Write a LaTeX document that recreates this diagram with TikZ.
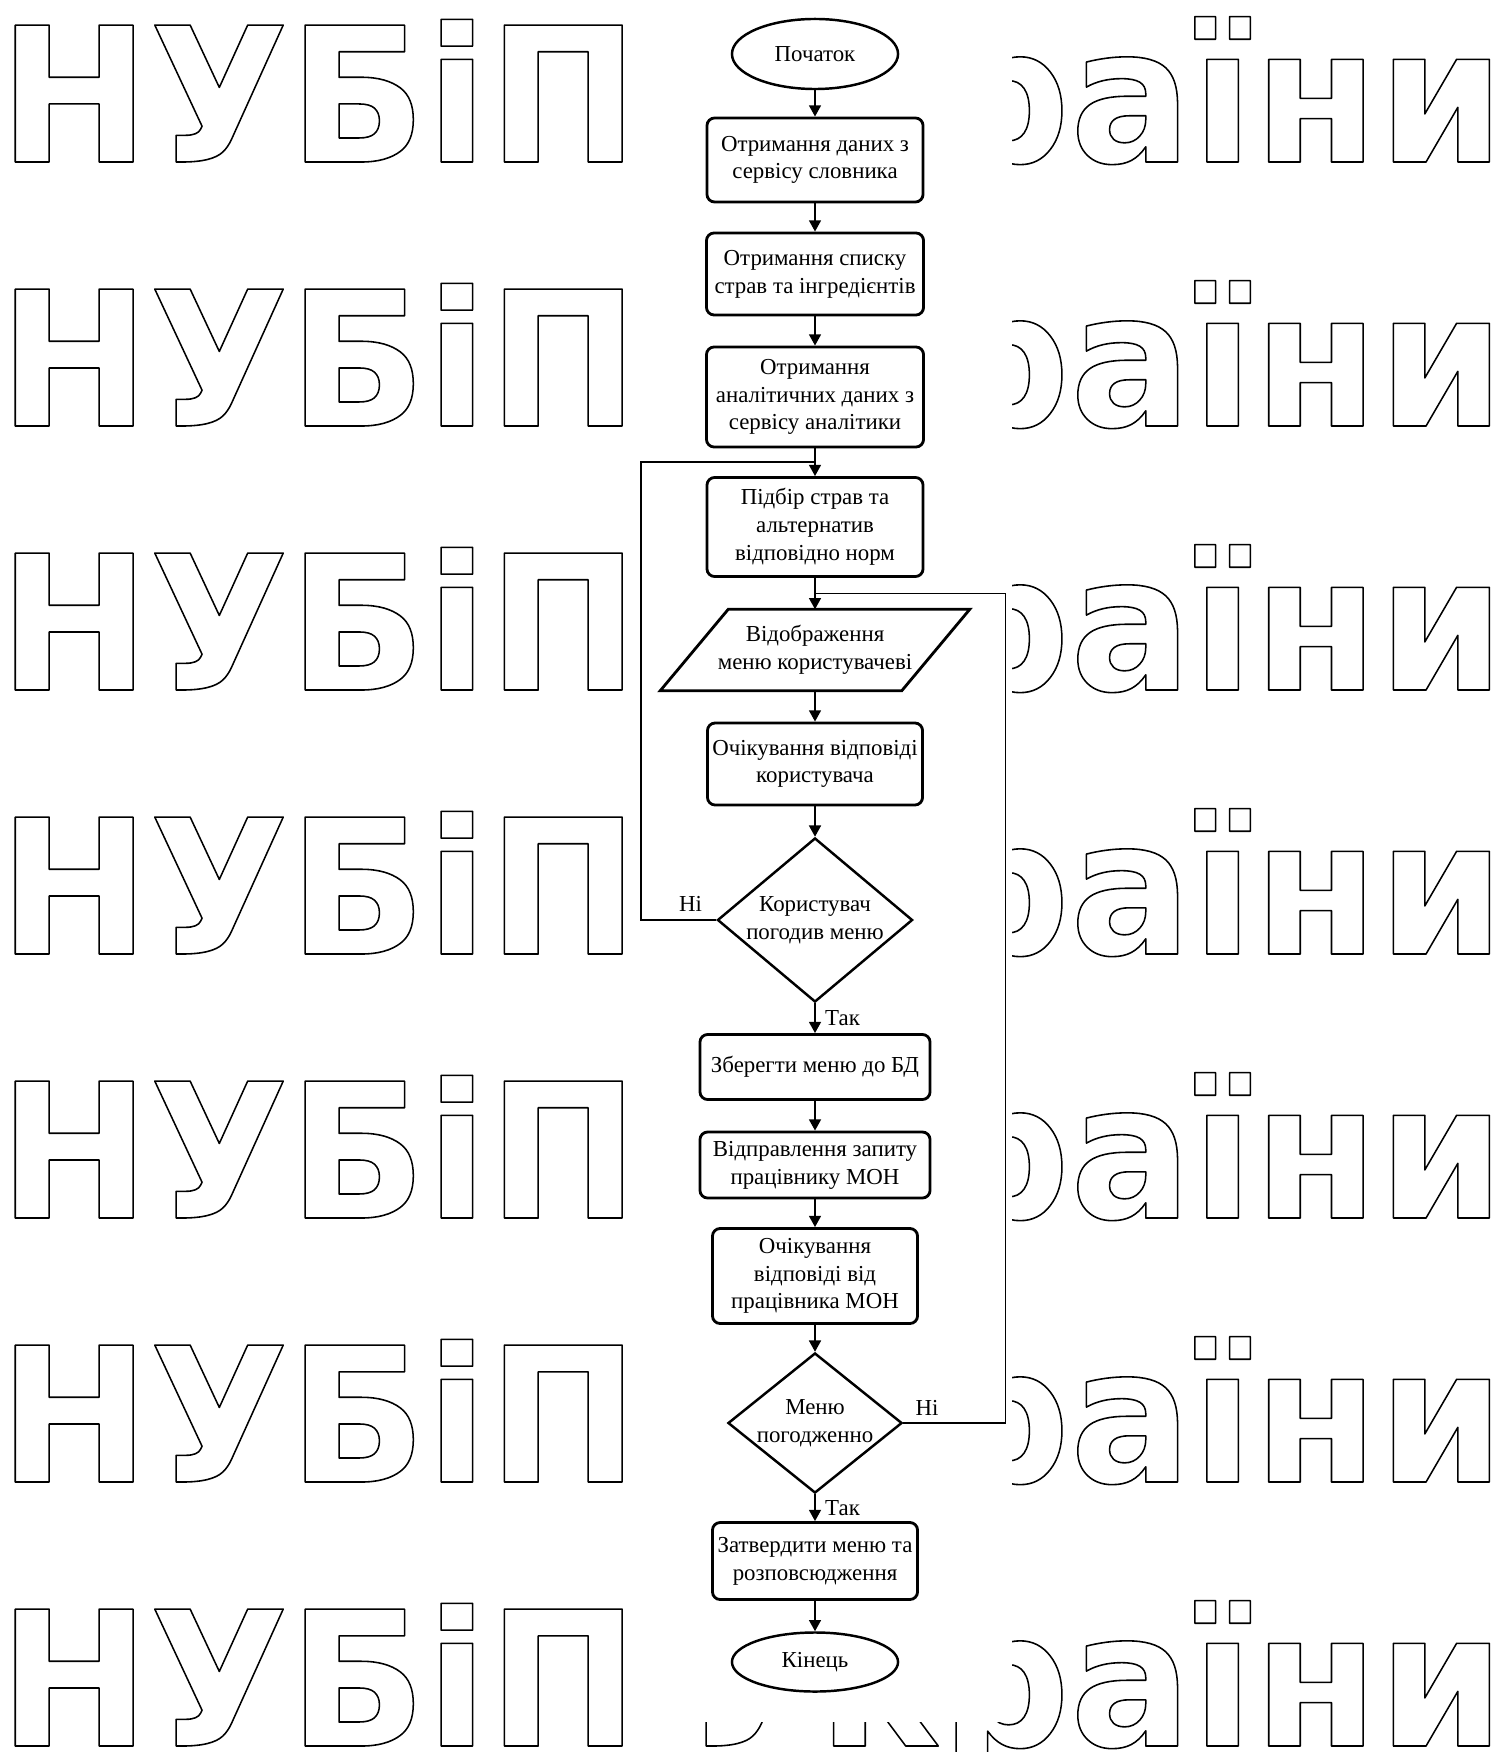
\documentclass[tikz,border=0pt]{standalone}
\usepackage{fontspec}
\setmainfont{Liberation Serif}
\newfontfamily\wmfont{DejaVu Sans}
\usepackage{tikz}
\usetikzlibrary{arrows.meta,shapes.geometric,positioning,calc}

\newcommand\boxfont{\fontsize{6.5}{7.9}\selectfont}
\newcommand\outl[1]{\scalebox{0.96}[1]{\special{pdf:literal direct 1 Tr 0.45 w 1 j 0 G}#1\special{pdf:literal direct 0 Tr}}}

\begin{document}
\begin{tikzpicture}[x=0.01cm,y=-0.01cm,
    wm/.style={font=\wmfont\bfseries\fontsize{53.4}{60}\selectfont,inner sep=0pt},
    proc/.style={draw,line width=0.8pt,rounded corners=2.2pt,align=center,
      inner sep=1pt,font=\boxfont},
    term/.style={draw,ellipse,line width=0.7pt,inner sep=0pt,
      minimum width=1.66cm,font=\boxfont},
    dec/.style={draw,diamond,line width=0.7pt,inner sep=-2pt,align=center,
      font=\boxfont},
    io/.style={minimum width=2.4cm,minimum height=0.8cm,inner sep=0pt,
      align=center,font=\boxfont},
    arr/.style={-{Triangle[length=3.2pt,width=3.4pt]},line width=0.5pt},
    loopline/.style={line width=0.45pt},
    lbl/.style={inner sep=1pt,font=\boxfont}
  ]
    \useasboundingbox (0,0) rectangle (1503,1752);

    % watermark
    \foreach \r in {0,...,6} {
      \node[wm,anchor=base west] (wl\r) at (-2,{162+264*\r}) {\outl{НУБіП}};
      \node[wm,anchor=base east] (wr\r) at (1505,{162+264*\r}) {\outl{України}};
    }
    \fill[white] (628,0) rectangle (1012,1722);

    % blocks
    \node[term,minimum height=0.7cm] (start) at (815,54) {Початок};
    \node[proc,minimum width=2.16cm,minimum height=0.84cm] (b1) at (815,160)
      {Отримання даних з\\сервісу словника};
    \node[proc,minimum width=2.17cm,minimum height=0.82cm] (b2) at (815,274)
      {Отримання списку\\страв та інгредієнтів};
    \node[proc,minimum width=2.17cm,minimum height=1.0cm] (b3) at (815,397)
      {Отримання\\аналітичних даних з\\сервісу аналітики};
    \node[proc,minimum width=2.16cm,minimum height=0.99cm] (b4) at (815,527)
      {Підбір страв та\\альтернатив\\відповідно норм};
    \node[io] (par) at (815,650) {Відображення\\меню користувачеві};
    \draw[line width=0.8pt] ($(par.south west)+(-34,0)$) -- ($(par.north west)+(34,0)$)
      -- ($(par.north east)+(34,0)$) -- ($(par.south east)+(-34,0)$) -- cycle;
    \node[proc,minimum width=2.15cm,minimum height=0.82cm] (b5) at (815,764)
      {Очікування відповіді\\користувача};
    \node[dec,aspect=1.2,minimum width=1.95cm,minimum height=1.64cm] (d1) at (815,920)
      {Користувач\\погодив меню};
    \node[proc,minimum width=2.3cm,minimum height=0.65cm] (b6) at (815,1067)
      {Зберегти меню до БД};
    \node[proc,minimum width=2.3cm,minimum height=0.66cm] (b7) at (815,1165)
      {Відправлення запиту\\працівнику МОН};
    \node[proc,minimum width=2.05cm,minimum height=0.95cm] (b8) at (815,1276)
      {Очікування\\відповіді від\\працівника МОН};
    \node[dec,aspect=1.24,minimum width=1.74cm,minimum height=1.4cm] (d2) at (815,1423)
      {Меню\\погодженно};
    \node[proc,minimum width=2.05cm,minimum height=0.77cm] (b9) at (815,1561)
      {Затвердити меню та\\розповсюдження};
    \node[term,minimum height=0.59cm] (fin) at (815,1662) {Кінець};

    % arrows
    \foreach \a/\b in {start/b1,b1/b2,b2/b3,b3/b4,b4/par,par/b5,b5/d1,
                       d1/b6,b6/b7,b7/b8,b8/d2,d2/b9,b9/fin} {
      \draw[arr] (\a) -- (\b);
    }

    % back loops
    \coordinate (j1) at ($(b3.south)!.5!(b4.north)$);
    \coordinate (j2) at ($(b4.south)!.5!(par.north)$);
    \draw[loopline] (d1.west) -- ++(-75,0) |- (j1);
    \draw[loopline] (d2.east) -- ++(102,0) |- (j2);

    \node[lbl,anchor=south east] (no1) at ($(d1.west)+(-10,-4)$) {Ні};
    \node[lbl,anchor=north west] (yes1) at ($(d1.south)+(6,3)$) {Так};
    \node[lbl,anchor=south west] (no2) at ($(d2.east)+(8,-3)$) {Ні};
    \node[lbl,anchor=north west] (yes2) at ($(d2.south)+(6,2)$) {Так};
  \end{tikzpicture}
\end{document}
